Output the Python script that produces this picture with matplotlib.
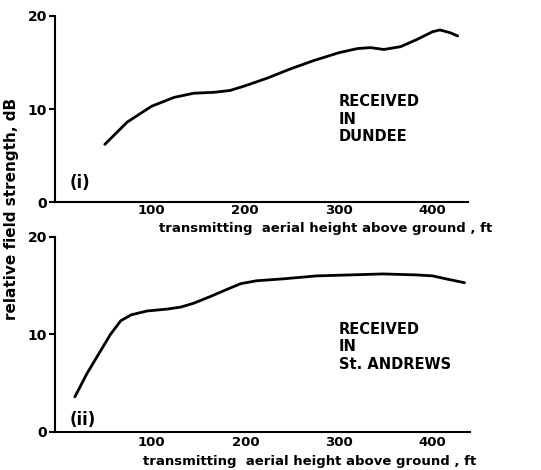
import matplotlib.pyplot as plt

# Curva (i): recibido en Dundee
h_dundee = [50, 74, 100, 124, 145, 167, 184, 200, 223, 248, 273, 300, 320, 334, 348, 366, 384, 400, 408, 419, 427]
db_dundee = [6.2, 8.6, 10.3, 11.25, 11.7, 11.8, 12.0, 12.5, 13.3, 14.3, 15.2, 16.05, 16.5, 16.6, 16.4, 16.7, 17.5, 18.3, 18.5, 18.2, 17.85]

# Curva (ii): recibido en St. Andrews
h_standrews = [18, 31, 46, 56, 67, 78, 95, 117, 131, 145, 163, 180, 195, 212, 241, 276, 312, 347, 383, 400, 414, 434]
db_standrews = [3.6, 6.0, 8.4, 10.0, 11.4, 12.0, 12.4, 12.6, 12.8, 13.2, 13.9, 14.6, 15.2, 15.5, 15.7, 16.0, 16.1, 16.2, 16.1, 16.0, 15.7, 15.3]

x_ticks = [100, 200, 300, 400]
y_ticks = [0, 10, 20]
xlabel = 'transmitting  aerial height above ground , ft'
ylabel = 'relative field strength, dB'

fig = plt.figure(figsize=(5.41, 4.70), dpi=100)
ax1 = fig.add_axes([0.102, 0.570, 0.763, 0.396])
ax2 = fig.add_axes([0.102, 0.081, 0.767, 0.415])
ax2.patch.set_visible(False)

panels = [
    (ax1, h_dundee, db_dundee, '(i)', 0.10, 'RECEIVED\nIN\nDUNDEE', 11.6, 438, 1.5),
    (ax2, h_standrews, db_standrews, '(ii)', 0.06, 'RECEIVED\nIN\nSt. ANDREWS', 11.3, 440, 3),
]

for ax, x, y, tag, tag_y, note, note_y, xmax, xpad in panels:
    ax.plot(x, y, color='black', lw=2.0, solid_capstyle='round')
    ax.set_xlim(-3, xmax)
    ax.set_ylim(0, 20)
    ax.spines['top'].set_visible(False)
    ax.spines['right'].set_visible(False)
    ax.spines['left'].set_linewidth(1.5)
    ax.spines['bottom'].set_linewidth(1.5)
    ax.set_xticks(x_ticks)
    ax.set_yticks(y_ticks)
    ax.tick_params(axis='y', direction='out', length=4, width=1.5, pad=2)
    ax.tick_params(axis='x', length=0, pad=xpad)
    for lab in ax.get_yticklabels():
        lab.set_fontweight('bold')
        lab.set_fontsize(10)
    for lab in ax.get_xticklabels():
        lab.set_fontweight('bold')
        lab.set_fontsize(9.5)
    ax.text(0.035, tag_y, tag, transform=ax.transAxes, fontsize=12,
            fontweight='bold', ha='left', va='center')
    ax.text(300, note_y, note, fontsize=10.5, fontweight='bold',
            ha='left', va='top', linespacing=1.2)
    ax.set_xlabel(xlabel, fontsize=9.5, fontweight='bold', labelpad=0)

ax1.xaxis.set_label_coords(0.656, -0.105)
ax2.xaxis.set_label_coords(0.614, -0.118)

fig.text(0.022, 0.555, ylabel, rotation=90, fontsize=11, fontweight='bold',
         ha='center', va='center')

fig.savefig('out.png', dpi=100)
